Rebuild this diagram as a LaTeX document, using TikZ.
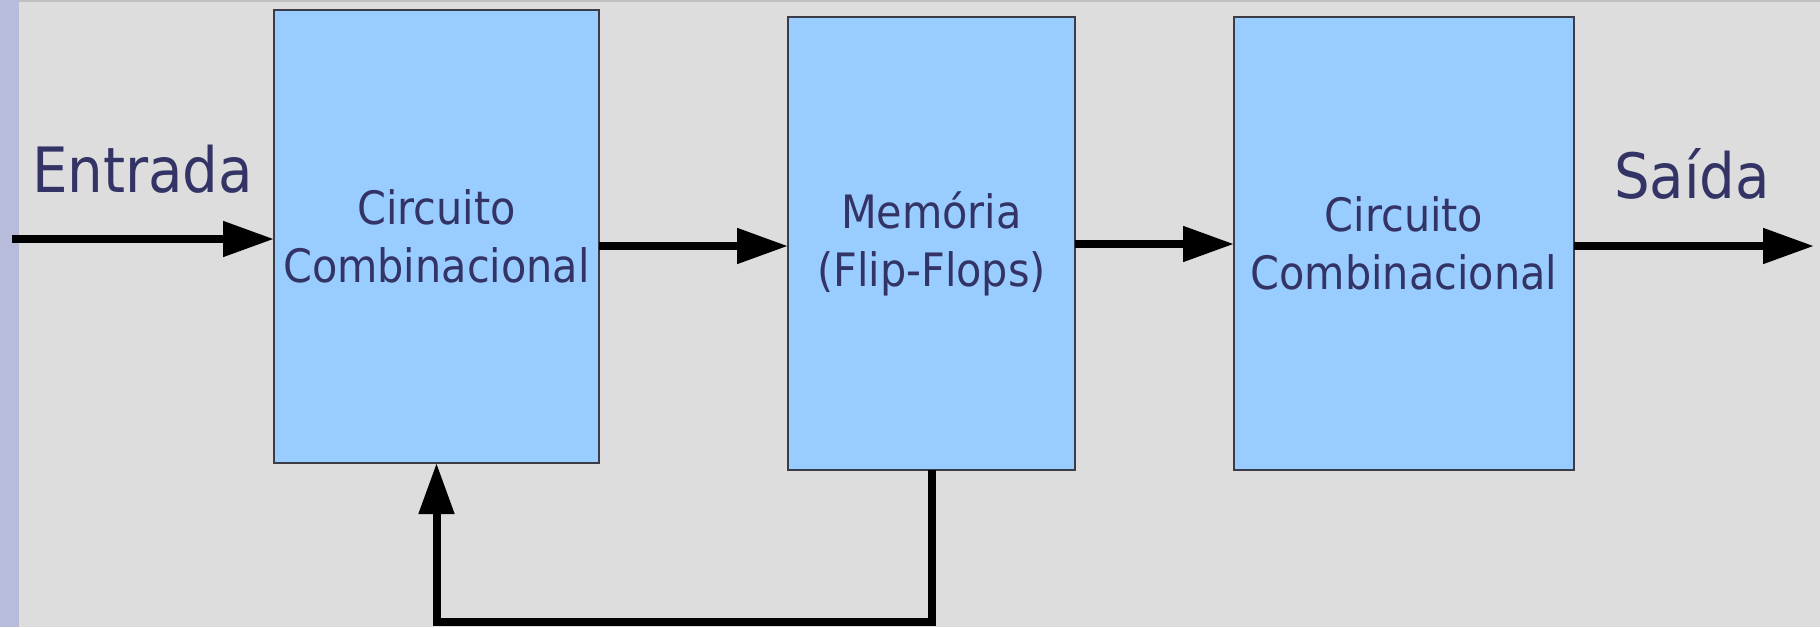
\documentclass[tikz,border=0pt]{standalone}
\usepackage{fontspec}
\setmainfont{DejaVu Sans Condensed}
\usetikzlibrary{arrows.meta}
\definecolor{bg}{RGB}{221,221,221}
\definecolor{stripe}{RGB}{184,188,220}
\definecolor{frame}{RGB}{192,192,192}
\definecolor{boxfill}{RGB}{153,204,255}
\definecolor{boxline}{RGB}{60,60,70}
\definecolor{ink}{RGB}{51,51,102}
\tikzset{
  block/.style={draw=boxline, line width=1.5pt, fill=boxfill, text=ink,
    align=center, inner sep=0pt, outer sep=0pt, minimum height=453pt,
    font=\fontsize{46}{58}\selectfont},
  label/.style={text=ink, inner sep=0pt, font=\fontsize{62.5}{70}\selectfont},
  flow/.style={line width=8pt, -{Triangle[length=51pt,width=34pt]}},
}
\begin{document}
\begin{tikzpicture}[x=1pt,y=-1pt]
  % page background, side stripe and top rule
  \useasboundingbox (0,0) rectangle (1820,627);
  \fill[bg] (0,0) rectangle (1820,627);
  \fill[stripe] (0,0) rectangle (19,627);
  \fill[frame] (19,0) rectangle (1820,1.5);

  % blocks
  \node[block, minimum width=325pt] (b1) at (436.5,236.5) {Circuito\\Combinacional};
  \node[block, minimum width=287pt] (b2) at (931.5,243.5) {Memória\\(Flip-Flops)};
  \node[block, minimum width=340pt] (b3) at (1404,243.5) {Circuito\\Combinacional};

  % labels
  \node[label, anchor=base west] (lin) at (32,192) {Entrada};
  \node[label, anchor=base west] (lout) at (1614,198) {Saída};

  % signal flow
  \coordinate (in) at (12,239);
  \coordinate (out) at (1814,246);
  \coordinate (fb) at (436.5,622);
  \draw[flow] (in) -- ([yshift=-2.5pt]b1.west);
  \draw[flow] ([yshift=-9.5pt]b1.east) -- ([yshift=-9.5pt]b1.east -| b2.west);
  \draw[flow] ([yshift=-0.5pt]b2.east) -- ([yshift=-0.5pt]b2.east -| b3.west);
  \draw[flow] ([yshift=-2.5pt]b3.east) -- (out);
  \draw[flow, line join=miter] (b2.south) |- (fb) -- (b1.south);
\end{tikzpicture}
\end{document}
